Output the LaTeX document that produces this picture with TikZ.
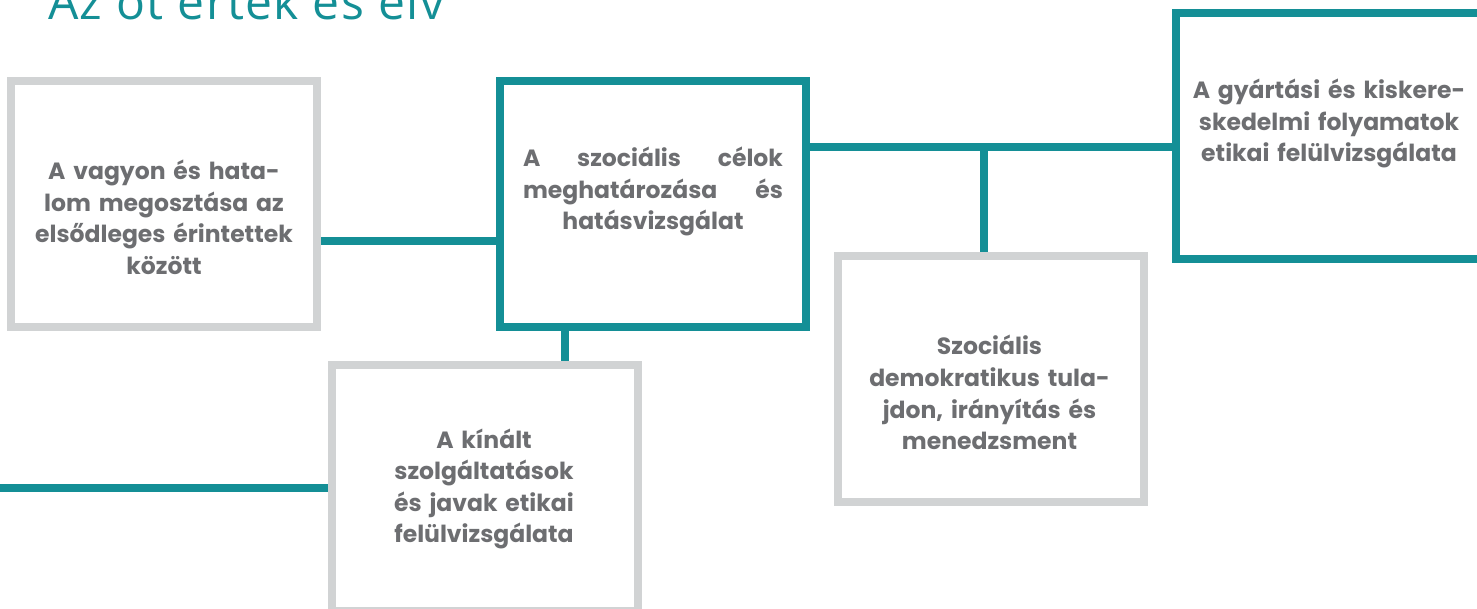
\documentclass[tikz,border=0pt]{standalone}
\usepackage{fontspec}
\setmainfont{Poppins}
\newfontfamily\titlefont[LetterSpace=3]{Open Sans}
\usetikzlibrary{backgrounds}
\definecolor{teal1}{HTML}{148F96}
\definecolor{boxgray}{HTML}{D1D3D4}
\definecolor{txtgray}{HTML}{6D6E71}
\begin{document}
\begin{tikzpicture}[x=1pt,y=-1pt,
  box/.style={draw, line width=8pt, fill=white, minimum width=306pt, minimum height=246pt, inner sep=0pt},
  graybox/.style={box, draw=boxgray},
  tealbox/.style={box, draw=teal1},
  boxtext/.style={text=txtgray, font=\fontsize{23.5}{31.5}\selectfont\bfseries, text width=300pt, align=center, anchor=base, inner sep=0pt},
  link/.style={draw=teal1, line width=7.5pt}]
\useasboundingbox (0,0) rectangle (1477,609);
\clip (0,0) rectangle (1477,609);

\node[anchor=base west, inner sep=0pt, text=teal1, font=\titlefont\fontsize{48}{48}\selectfont] (title) at (48,19.5) {Az öt érték és elv};

\node[graybox] (b1) at (164,204) {};
\node[tealbox] (b2) at (653,204) {};
\node[graybox] (b3) at (485,488) {};
\node[graybox] (b4) at (991,379) {};
\node[tealbox] (b5) at (1329,136) {};

\node[boxtext] (t1) at (164,180) {A vagyon és hata-\\lom megosztása az\\elsődleges érintettek\\között};
\node[boxtext] (t2) at (653,167) {\makebox[260pt][s]{A\hfill szociális\hfill célok}\\\makebox[260pt][s]{meghatározása\hfill és}\\hatásvizsgálat};
\node[boxtext] (t3) at (484,448) {A kínált\\szolgáltatások\\és javak etikai\\felülvizsgálata};
\node[boxtext] (t4) at (989.5,355) {Szociális\\demokratikus tula-\\jdon, irányítás és\\menedzsment};
\node[boxtext] (t5) at (1329,99) {A gyártási és kiskere-\\skedelmi folyamatok\\etikai felülvizsgálata};

\coordinate (lend) at (-10,488);
\coordinate (j) at (984,147);
\begin{scope}[on background layer]
\fill[white] (0,0) rectangle (1477,609);
\draw[link] (b1.east |- 0,241) -- (b2.west |- 0,241);
\draw[link] (b2.south -| 565,0) -- (b3.north -| 565,0);
\draw[link] (lend) -- (b3.west);
\draw[link] (b2.east |- j) -- (b5.west |- j);
\draw[link] (j) -- (b4.north -| j);
\end{scope}
\end{tikzpicture}
\end{document}
